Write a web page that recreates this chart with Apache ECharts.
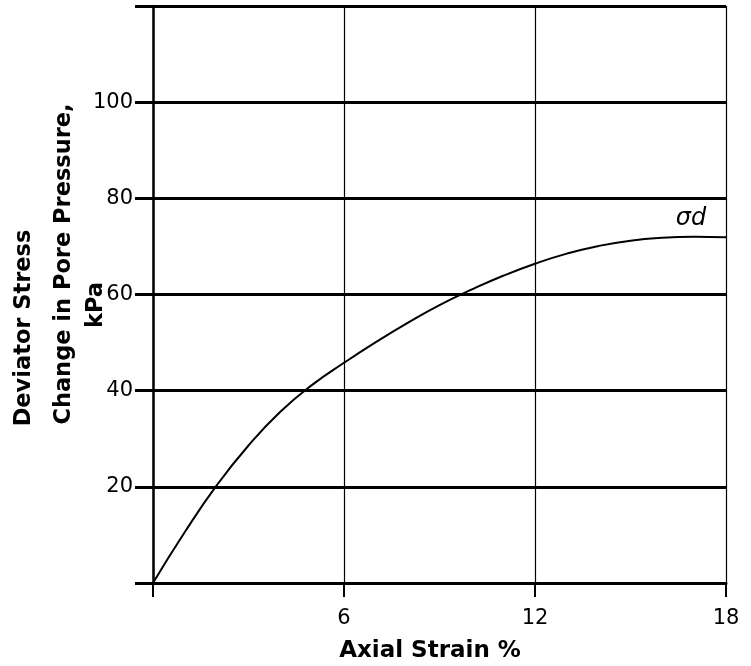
<!DOCTYPE html>
<html>
<head>
<meta charset="utf-8">
<script src="https://cdn.jsdelivr.net/npm/echarts@6/dist/echarts.min.js"></script>
<style>
  html, body { margin: 0; padding: 0; background: #fff; }
  #chart { width: 751px; height: 666px; }
</style>
</head>
<body>
<div id="chart"></div>
<script>
// Data
var strain = [0, 1, 2, 3, 4, 5, 6, 7, 8, 9, 10, 11, 12, 13, 14, 15, 16, 17, 18];
var deviatorStress = [0, 10.6, 20.3, 28.6, 35.6, 41.2, 45.8, 50.1, 54.1, 57.8, 61.0, 63.9, 66.4, 68.5, 70.1, 71.2, 71.8, 72.0, 71.9];
var xTicks = [0, 6, 12, 18];
var yTicks = [0, 20, 40, 60, 80, 100, 120];
var curveLabel = 'σd';
var curveLabelAt = [16.9, 75.8];
var xTitle = 'Axial Strain %';
var yTitles = ['Deviator Stress', 'Change in Pore Pressure,', 'kPa'];

var chart = echarts.init(document.getElementById('chart'), null, { renderer: 'canvas' });

var tickFont = 'DejaVu Sans';

var option = {
  backgroundColor: '#ffffff',
  animation: false,
  grid: { left: 153, right: 25, top: 6, bottom: 83, containLabel: false },
  xAxis: {
    type: 'value',
    min: xTicks[0],
    max: xTicks[xTicks.length - 1],
    interval: 6,
    axisLine: { show: true, lineStyle: { color: '#000', width: 3 } },
    axisTick: { show: true, length: 14, lineStyle: { color: '#000', width: 2 } },
    axisLabel: {
      margin: 25,
      color: '#000',
      fontFamily: tickFont,
      fontSize: 21,
      formatter: function (v) { return v === 0 ? '' : String(v); }
    },
    splitLine: { show: true, lineStyle: { color: '#000', width: 1.2 } }
  },
  yAxis: {
    type: 'value',
    min: yTicks[0],
    max: yTicks[yTicks.length - 1],
    interval: 20,
    axisLine: { show: true, lineStyle: { color: '#000', width: 2.5 } },
    axisTick: { show: true, length: 18, lineStyle: { color: '#000', width: 3 } },
    axisLabel: {
      margin: 20,
      color: '#000',
      fontFamily: tickFont,
      fontSize: 21,
      formatter: function (v) { return (v === 0 || v === 120) ? '' : String(v); }
    },
    splitLine: { show: true, lineStyle: { color: '#000', width: 3 } }
  },
  series: [{
    type: 'line',
    data: strain.map(function (s, i) { return [s, deviatorStress[i]]; }),
    smooth: 0.5,
    symbol: 'none',
    lineStyle: { color: '#000', width: 2 },
    markPoint: {
      symbol: 'circle',
      symbolSize: 0,
      data: [{
        coord: curveLabelAt,
        label: {
          show: true,
          formatter: curveLabel,
          position: 'inside',
          color: '#000',
          fontStyle: 'italic',
          fontFamily: 'DejaVu Sans',
          fontSize: 24
        }
      }]
    }
  }],
  graphic: [
    {
      type: 'text', x: 430, y: 651,
      style: { text: xTitle, fill: '#000', font: 'bold 23px "DejaVu Sans"', textAlign: 'center', textVerticalAlign: 'middle' }
    },
    {
      type: 'text', x: 24, y: 328, rotation: Math.PI / 2,
      style: { text: yTitles[0], fill: '#000', font: 'bold 22.5px "DejaVu Sans"', textAlign: 'center', textVerticalAlign: 'middle' }
    },
    {
      type: 'text', x: 64, y: 264, rotation: Math.PI / 2,
      style: { text: yTitles[1], fill: '#000', font: 'bold 22.5px "DejaVu Sans"', textAlign: 'center', textVerticalAlign: 'middle' }
    },
    {
      type: 'text', x: 96, y: 305, rotation: Math.PI / 2,
      style: { text: yTitles[2], fill: '#000', font: 'bold 22.5px "DejaVu Sans"', textAlign: 'center', textVerticalAlign: 'middle' }
    }
  ]
};

chart.setOption(option);
</script>
</body>
</html>
